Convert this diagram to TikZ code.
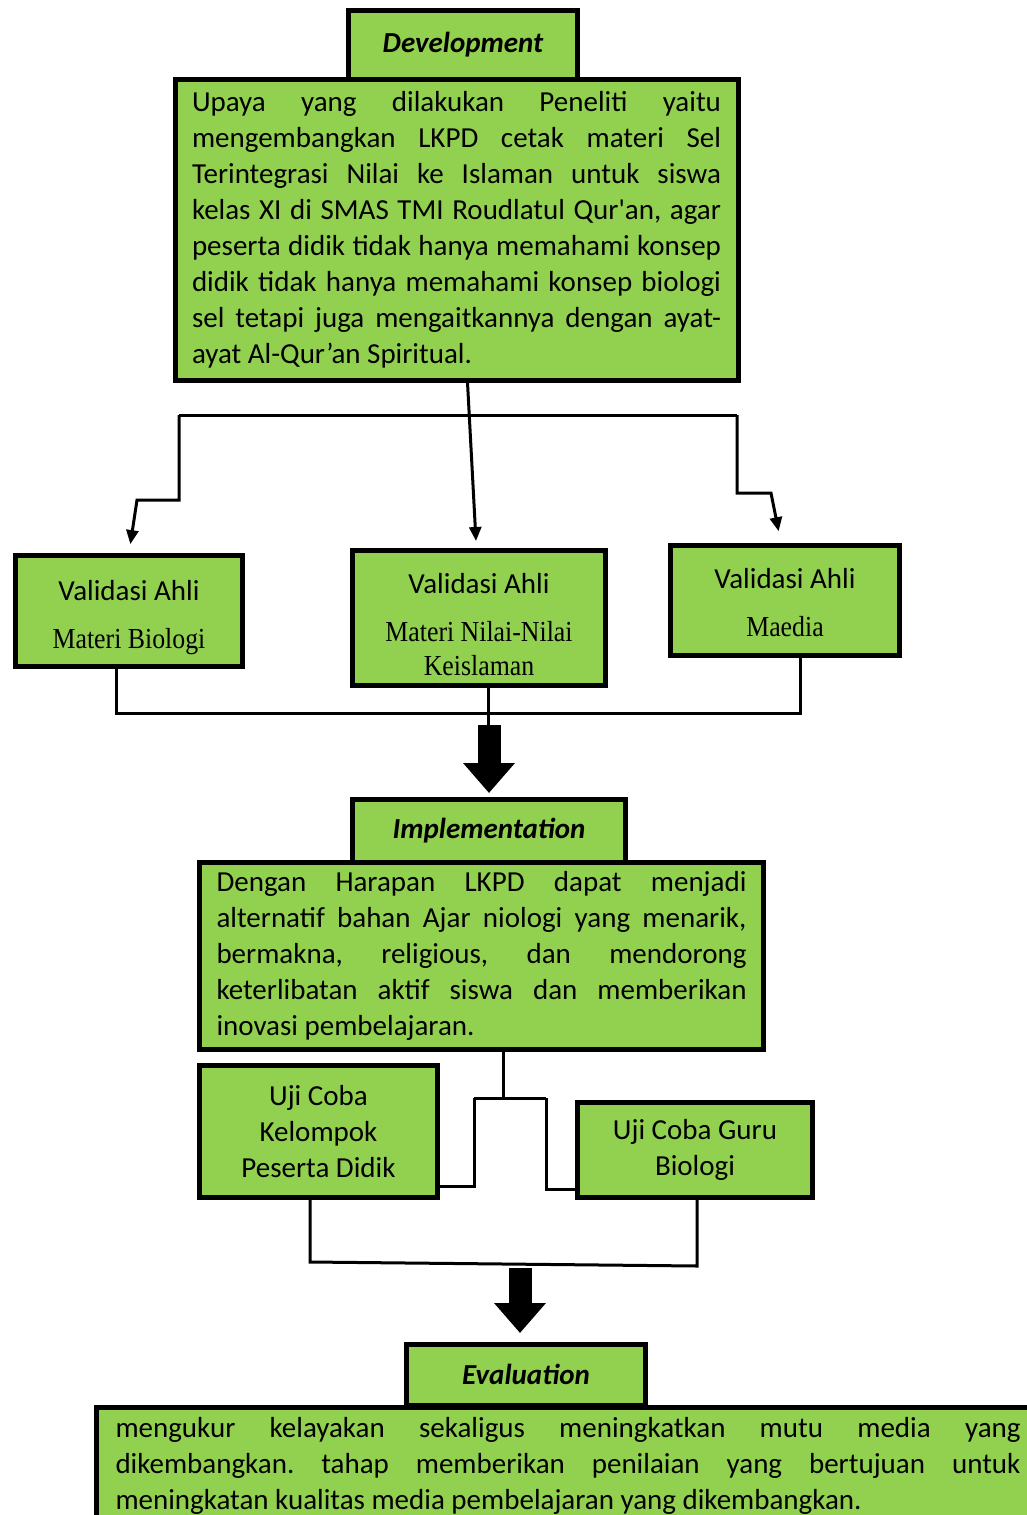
\documentclass[tikz,border=0pt]{standalone}
\usepackage{fontspec}
\setmainfont{Carlito}
\newfontfamily\vaserif[FakeStretch=0.89]{Liberation Serif}
\usetikzlibrary{arrows.meta,calc}
\definecolor{boxgreen}{RGB}{146,208,80}
\newcommand{\fullline}[1]{\makebox[\hsize][s]{#1}}
\frenchspacing

\begin{document}
\begin{tikzpicture}[x=1pt,y=-1pt,
  greenbox/.style={draw=black, line width=5pt, fill=boxgreen, inner sep=0pt,
    font=\fontsize{29}{36}\selectfont},
  headbox/.style={greenbox, font=\fontsize{29}{36}\selectfont\bfseries\itshape},
  textbox/.style={greenbox, align=justify},
  vabox/.style={greenbox, align=center, font=\fontsize{29}{34}\selectfont},
  link/.style={line width=3pt},
  smalltip/.style={-{Triangle[length=14pt,width=12pt]}},
  bigarrow/.style={line width=23pt,-{Triangle[length=30pt,width=50pt]}}]
  \useasboundingbox (0,0) rectangle (1027,1515);
  \clip (0,0) rectangle (1027,1515);

  % development
  \node[headbox, minimum width=229pt, minimum height=69pt] (devh) at (463,44.5) {Development};
  \node[textbox, text width=529pt, minimum width=563pt, minimum height=301pt] (devb) at (456.5,229.5) {%
    \fullline{Upaya yang dilakukan Peneliti yaitu}\\
    \fullline{mengembangkan LKPD cetak materi Sel}\\
    \fullline{Terintegrasi Nilai ke Islaman untuk siswa}\\
    \fullline{kelas XI di SMAS TMI Roudlatul Qur\textquotesingle an, agar}\\
    \fullline{peserta didik tidak hanya memahami konsep}\\
    \fullline{didik tidak hanya memahami konsep biologi}\\
    \fullline{sel tetapi juga mengaitkannya dengan ayat-}\\
    ayat Al-Qur’an Spiritual.};

  % validasi
  \node[vabox, minimum width=227pt, minimum height=111pt] (va1) at (129,611)
    {\rule{0pt}{34pt}Validasi Ahli\\[14pt]\vaserif Materi Biologi};
  \node[vabox, minimum width=253pt, minimum height=135pt] (va2) at (479,618)
    {\rule{0pt}{34pt}Validasi Ahli\\[14pt]\vaserif Materi Nilai-Nilai\\\vaserif Keislaman};
  \node[vabox, minimum width=229pt, minimum height=110pt] (va3) at (785,600.5)
    {\rule{0pt}{24pt}Validasi Ahli\\[14pt]\vaserif Maedia};

  \coordinate (tl) at (179,415);
  \coordinate (tr) at (737,415);
  \draw[link] (tl) -- (tr);
  \draw[link, smalltip, shorten >=9pt] (tl) -- (179,500) -- (137,500) -- (va1.north);
  \draw[link, smalltip] ($(devb.south)+(11,0)$) -- ($(va2.north)+(-3,-7)$);
  \draw[link, smalltip, shorten >=12pt] (tr) -- (737,493) -- (771,493) -- ($(va3.north)+(-4,0)$);

  \draw[link] ($(va1.south)+(-13,0)$) -- (116,713) -- (800,713) -- ($(va3.south)+(15,0)$);
  \coordinate (m1) at (489,725);
  \draw[link] ($(va2.south)+(9,0)$) -- ($(va2.south)+(9,40)$);

  % implementation
  \node[headbox, minimum width=273pt, minimum height=62.5pt] (imph) at (489,830.75) {Implementation};
  \node[textbox, text width=530pt, minimum width=564pt, minimum height=187.5pt] (impb) at (481.5,955.75) {%
    \fullline{Dengan Harapan LKPD dapat menjadi}\\
    \fullline{alternatif bahan Ajar niologi yang menarik,}\\
    \fullline{bermakna, religious, dan mendorong}\\
    \fullline{keterlibatan aktif siswa dan memberikan}\\
    inovasi pembelajaran.};
  \draw[bigarrow] (m1) -- ($(imph.north)+(0,-4)$);

  % uji coba
  \node[greenbox, align=center, minimum width=238pt, minimum height=132pt] (uc1) at (318.5,1131.5)
    {Uji Coba\\Kelompok\\Peserta Didik};
  \node[greenbox, align=center, minimum width=235pt, minimum height=95pt] (uc2) at (695,1150)
    {Uji Coba Guru\\Biologi};

  \coordinate (j2) at (474,1098);
  \coordinate (j3) at (546,1098);
  \draw[link] ($(impb.south)+(21.5,0)$) -- (503,1098);
  \draw[link] (j2) -- (j3);
  \draw[link] (j2) |- ($(uc1.south east)+(0,-13.5)$);
  \draw[link] (j3) |- ($(uc2.south west)+(0,-10.5)$);

  \draw[link] ($(uc1.south)+(-8.5,0)$) -- (310,1262) -- (697,1266) -- ($(uc2.south)+(2,0)$);
  \coordinate (m2) at (520,1268);

  % evaluation
  \node[headbox, minimum width=239pt, minimum height=60.5pt] (evh) at (526,1374.75) {Evaluation};
  \node[textbox, anchor=north west, text width=905pt, inner xsep=19.5pt, inner ysep=10pt] (evb) at (93.5,1405) {%
    \fullline{mengukur kelayakan sekaligus meningkatkan mutu media yang}\\
    \fullline{dikembangkan. tahap memberikan penilaian yang bertujuan untuk}\\
    meningkatan kualitas media pembelajaran yang dikembangkan.};
  \draw[bigarrow] (m2) -- ($(evh.north)+(-6,-9)$);
\end{tikzpicture}
\end{document}
